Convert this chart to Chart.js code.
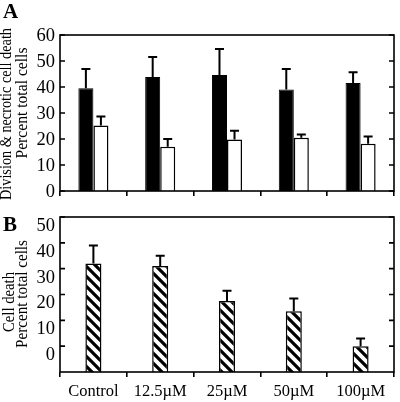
<!DOCTYPE html>
<html>
<head>
<meta charset="utf-8">
<script src="https://cdn.jsdelivr.net/npm/chart.js@4.4.0/dist/chart.umd.min.js"></script>
<style>
  html, body { margin: 0; padding: 0; background: #fff; }
  #wrap { position: relative; width: 400px; height: 402px; overflow: hidden; background: #fff; }
  canvas { position: absolute; left: 0; }
  #chartA { top: 0; width: 400px; height: 200px; }
  #chartB { top: 200px; width: 400px; height: 202px; }
  .panel { position: absolute; left: 3px; font: bold 21px "Liberation Serif", serif; line-height: 1; color: #000; }
</style>
</head>
<body>
<div id="wrap">
  <canvas id="chartA" width="400" height="200"></canvas>
  <canvas id="chartB" width="400" height="202"></canvas>
  <div class="panel" style="top:1px;">A</div>
  <div class="panel" style="top:214px;">B</div>
</div>
<script>
// categories and values
const categories = ['Control', '12.5µM', '25µM', '50µM', '100µM'];

// panel A: division (black) and necrotic (white) cell death
const divisionDeath = [39.5, 43.8, 44.6, 39, 41.5];
const divisionErr = [7.4, 7.7, 10, 7.9, 4.2];
const necroticDeath = [25.2, 17, 19.8, 20.5, 18.2];
const necroticErr = [3.5, 3, 3.4, 1.2, 2.8];
const ticksA = [0, 10, 20, 30, 40, 50, 60];

// panel B: cell death (hatched)
const cellDeath = [32, 31, 17.5, 13.5, 0];
const cellDeathErr = [7, 4, 4, 5, 3];
const ticksB = [0, 10, 20, 30, 40, 50];

const serif = '"Liberation Serif", "Times New Roman", serif';

/**
 * Diagonal hatch pattern for panel B bars
 */
function makeHatch() {
    const c = document.createElement('canvas');
    c.width = 10;
    c.height = 10;
    const g = c.getContext('2d');
    g.fillStyle = '#fff';
    g.fillRect(0, 0, 10, 10);
    g.strokeStyle = '#000';
    g.lineWidth = 3.2;
    g.beginPath();
    g.moveTo(-2, -2); g.lineTo(12, 12);
    g.moveTo(-2, 8); g.lineTo(2, 12);
    g.moveTo(8, -2); g.lineTo(12, 2);
    g.stroke();
    return g.createPattern(c, 'repeat');
}

// Upper error bars with a small cap
const errorBars = {
    id: 'errorBars',
    afterDatasetsDraw(chart) {
        const ctx = chart.ctx;
        const y = chart.scales.y;
        chart.data.datasets.forEach((ds, i) => {
            const meta = chart.getDatasetMeta(i);
            meta.data.forEach((bar, j) => {
                const top = y.getPixelForValue(ds.data[j] + ds.errors[j]);
                ctx.save();
                ctx.strokeStyle = '#000';
                ctx.lineWidth = 2;
                ctx.beginPath();
                ctx.moveTo(bar.x, bar.y);
                ctx.lineTo(bar.x, top);
                ctx.moveTo(bar.x - 4.5, top);
                ctx.lineTo(bar.x + 4.5, top);
                ctx.stroke();
                ctx.restore();
            });
        });
    }
};

// Box frame with inward tick marks on both sides
const frame = {
    id: 'frame',
    afterDraw(chart) {
        const { ctx, chartArea: a } = chart;
        const y = chart.scales.y;
        ctx.save();
        ctx.strokeStyle = '#000';
        ctx.lineWidth = 1.6;
        ctx.strokeRect(a.left, a.top, a.right - a.left, a.bottom - a.top);
        ctx.beginPath();
        y.ticks.forEach(t => {
            const py = y.getPixelForValue(t.value);
            ctx.moveTo(a.left, py); ctx.lineTo(a.left + 5, py);
            ctx.moveTo(a.right, py); ctx.lineTo(a.right - 5, py);
        });
        ctx.stroke();
        ctx.restore();
    }
};

// Two-line rotated y titles, condensed like the original lettering
const axisTitles = {
    id: 'axisTitles',
    afterDraw(chart, args, opts) {
        const { ctx, chartArea: a } = chart;
        const cy = (a.top + a.bottom) / 2;
        opts.lines.forEach(l => {
            ctx.save();
            ctx.translate(l.x, cy + l.dy);
            ctx.rotate(-Math.PI / 2);
            ctx.font = l.size + 'px ' + serif;
            ctx.fillStyle = '#000';
            ctx.textAlign = 'center';
            ctx.textBaseline = 'middle';
            ctx.fillText(l.text, 0, 0, l.maxWidth);
            ctx.restore();
        });
    }
};

function xScale(showLabels, height) {
    return {
        offset: true,
        grid: { display: true, offset: true, drawOnChartArea: false, drawTicks: true, tickLength: 5, color: '#000', lineWidth: 1.6 },
        border: { display: false },
        ticks: { display: showLabels, autoSkip: false, maxRotation: 0, padding: 5, color: '#000', font: { family: serif, size: 16.5 } },
        afterFit(scale) {
            scale.height = height;
            scale.paddingLeft = 0;
            scale.paddingRight = 0;
        }
    };
}

function yScale(min, max, tickValues, labelOffset) {
    return {
        min: min,
        max: max,
        grid: { display: false, drawTicks: false },
        border: { display: false },
        ticks: { padding: 5, labelOffset: labelOffset, color: '#000', font: { family: serif, size: 18.5 } },
        afterBuildTicks(scale) { scale.ticks = tickValues.map(v => ({ value: v })); },
        title: { display: false },
        afterFit(scale) {
            scale.width = 60;
            scale.paddingTop = 0;
            scale.paddingBottom = 0;
        }
    };
}

const common = {
    responsive: false,
    animation: false,
    devicePixelRatio: 1
};

new Chart(document.getElementById('chartA'), {
    type: 'bar',
    data: {
        labels: categories,
        datasets: [
            { data: divisionDeath, errors: divisionErr, backgroundColor: '#000', borderColor: '#000', borderWidth: 1 },
            { data: necroticDeath, errors: necroticErr, backgroundColor: '#fff', borderColor: '#000', borderWidth: 1.5 }
        ]
    },
    options: Object.assign({}, common, {
        categoryPercentage: 0.45,
        barPercentage: 1.0,
        layout: { autoPadding: false, padding: { top: 35, right: 6, left: 0, bottom: 0 } },
        plugins: {
            legend: { display: false },
            tooltip: { enabled: false },
            axisTitles: {
                lines: [
                    { text: 'Division & necrotic cell death', x: 6.5, dy: 1, size: 16.5, maxWidth: 172 },
                    { text: 'Percent total cells', x: 22.5, dy: -10, size: 16, maxWidth: 111 }
                ]
            }
        },
        scales: {
            x: xScale(false, 9),
            y: yScale(0, 60, ticksA, 1)
        }
    }),
    plugins: [errorBars, frame, axisTitles]
});

new Chart(document.getElementById('chartB'), {
    type: 'bar',
    data: {
        labels: categories,
        datasets: [
            { data: cellDeath, errors: cellDeathErr, base: -10, backgroundColor: makeHatch(), borderColor: '#000', borderWidth: 1.5 }
        ]
    },
    options: Object.assign({}, common, {
        categoryPercentage: 0.24,
        barPercentage: 1.0,
        layout: { autoPadding: false, padding: { top: 17, right: 6, left: 0, bottom: 0 } },
        plugins: {
            legend: { display: false },
            tooltip: { enabled: false },
            axisTitles: {
                lines: [
                    { text: 'Cell death', x: 9.5, dy: 7.5, size: 17, maxWidth: 60 },
                    { text: 'Percent total cells', x: 23, dy: -0.5, size: 16, maxWidth: 108 }
                ]
            }
        },
        scales: {
            x: xScale(true, 30),
            y: yScale(-10, 50, ticksB, 9)
        }
    }),
    plugins: [errorBars, frame, axisTitles]
});
</script>
</body>
</html>
